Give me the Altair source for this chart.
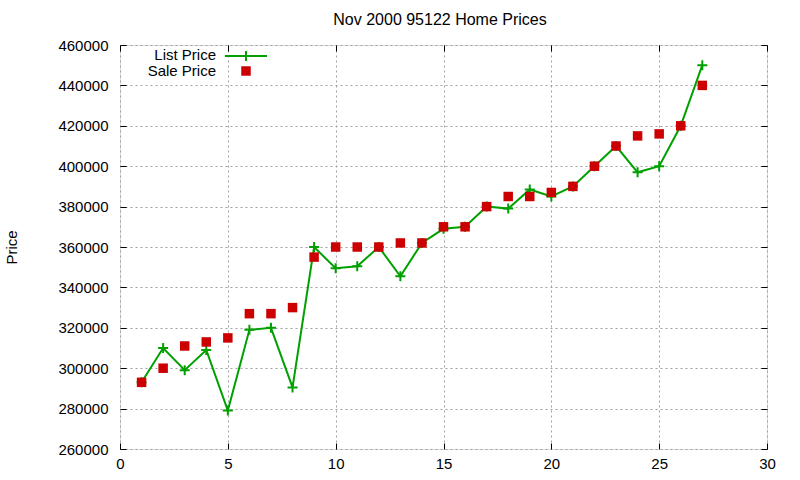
import altair as alt
import pandas as pd

# ---- data ----
x_vals = list(range(1, 28))
list_price = [293000, 310000, 299000, 309000, 279000, 319000, 320000, 290500, 360000, 349500,
              350500, 360000, 345500, 362000, 369000, 370000, 380000, 379000, 388500, 385000,
              390000, 400000, 410000, 397000, 400000, 420000, 450000]
sale_price = [293000, 300000, 311000, 313000, 315000, 327000, 327000, 330000, 355000, 360000,
              360000, 360000, 362000, 362000, 370000, 370000, 380000, 385000, 385000, 387000,
              390000, 400000, 410000, 415000, 416000, 420000, 440000]
x_ticks = [0, 5, 10, 15, 20, 25, 30]
y_ticks = [260000, 280000, 300000, 320000, 340000, 360000, 380000, 400000, 420000, 440000, 460000]
legend_labels = ["List Price", "Sale Price"]
title_text = "Nov 2000 95122 Home Prices"
y_title = "Price"

FONT = "Liberation Sans"
GREEN = "#00a000"
RED = "#cc0000"
CROSS = "M-1,0L1,0M0,-1L0,1"

df = pd.DataFrame({"x": x_vals, "list": list_price, "sale": sale_price})

xscale = alt.Scale(domain=[0, 30], nice=False, zero=False)
yscale = alt.Scale(domain=[260000, 460000], nice=False, zero=False)

x_axis = alt.Axis(orient="bottom", values=x_ticks, offset=-6, tickSize=6, labelPadding=7,
                  domain=False, grid=True, gridDash=[2, 3], gridColor="#a0a0a0", gridWidth=1,
                  title=None, labelFontSize=15, labelFont=FONT, labelColor="black",
                  tickColor="black", labelAngle=0, labelFlush=False)
y_axis = alt.Axis(orient="left", values=y_ticks, offset=-6, tickSize=6, labelPadding=12,
                  domain=False, grid=True, gridDash=[2, 3], gridColor="#a0a0a0", gridWidth=1,
                  title=y_title, titleFont=FONT, titleFontSize=15, titleFontWeight="normal",
                  titleColor="black", titlePadding=38,
                  labelFontSize=15, labelFont=FONT, labelColor="black", tickColor="black",
                  format="d", labelFlush=False)
top_axis = alt.Axis(orient="top", values=x_ticks, offset=-6, tickSize=6, labels=False,
                    domain=False, grid=False, title=None, tickColor="black", minExtent=0)
right_axis = alt.Axis(orient="right", values=y_ticks, offset=-6, tickSize=6, labels=False,
                      domain=False, grid=False, title=None, tickColor="black", minExtent=0)

base = alt.Chart(df)

line = base.mark_line(color=GREEN, strokeWidth=2).encode(
    x=alt.X("x:Q", scale=xscale, axis=x_axis),
    y=alt.Y("list:Q", scale=yscale, axis=y_axis),
)
crosses = base.mark_point(shape=CROSS, size=100, stroke=GREEN, strokeWidth=2,
                          filled=False, opacity=1).encode(
    x=alt.X("x:Q", scale=xscale),
    y=alt.Y("list:Q", scale=yscale),
)
squares = base.mark_square(color=RED, size=90, opacity=1).encode(
    x=alt.X("x:Q", scale=xscale, axis=top_axis),
    y=alt.Y("sale:Q", scale=yscale, axis=right_axis),
)

# ---- title as text above the plot area ----
title_df = pd.DataFrame({"t": [title_text]})
title_mark = alt.Chart(title_df).mark_text(align="center", baseline="middle", font=FONT,
                                           fontSize=16, color="black").encode(
    text="t:N", x=alt.value(320), y=alt.value(-25))

# ---- legend (gnuplot style: label left of sample) ----
leg1 = pd.DataFrame({"label": [legend_labels[0]]})
leg2 = pd.DataFrame({"label": [legend_labels[1]]})
leg_text1 = alt.Chart(leg1).mark_text(align="right", baseline="middle", font=FONT, fontSize=15,
                                      color="black").encode(
    text="label:N", x=alt.value(96), y=alt.value(10))
leg_text2 = alt.Chart(leg2).mark_text(align="right", baseline="middle", font=FONT, fontSize=15,
                                      color="black").encode(
    text="label:N", x=alt.value(96), y=alt.value(26))
leg_line = alt.Chart(leg1).mark_rule(color=GREEN, strokeWidth=2).encode(
    x=alt.value(105), x2=alt.value(147), y=alt.value(11))
leg_cross = alt.Chart(leg1).mark_point(shape=CROSS, size=100, stroke=GREEN, strokeWidth=2,
                                       filled=False, opacity=1).encode(
    x=alt.value(126), y=alt.value(11))
leg_square = alt.Chart(leg2).mark_square(color=RED, size=90, opacity=1).encode(
    x=alt.value(126), y=alt.value(26))

main = alt.layer(line, crosses)
chart = alt.layer(main, squares, title_mark, leg_text1, leg_text2, leg_line, leg_cross,
                  leg_square).resolve_scale(
    x="independent", y="independent"
).properties(
    width=647, height=404,
    autosize=alt.AutoSizeParams(type="none"),
    padding={"left": 120, "top": 45, "right": 33, "bottom": 31},
).configure_view(stroke="black", strokeWidth=1).configure(background="white")

chart.save("out.html", embed_options={"renderer": "svg", "actions": False})
